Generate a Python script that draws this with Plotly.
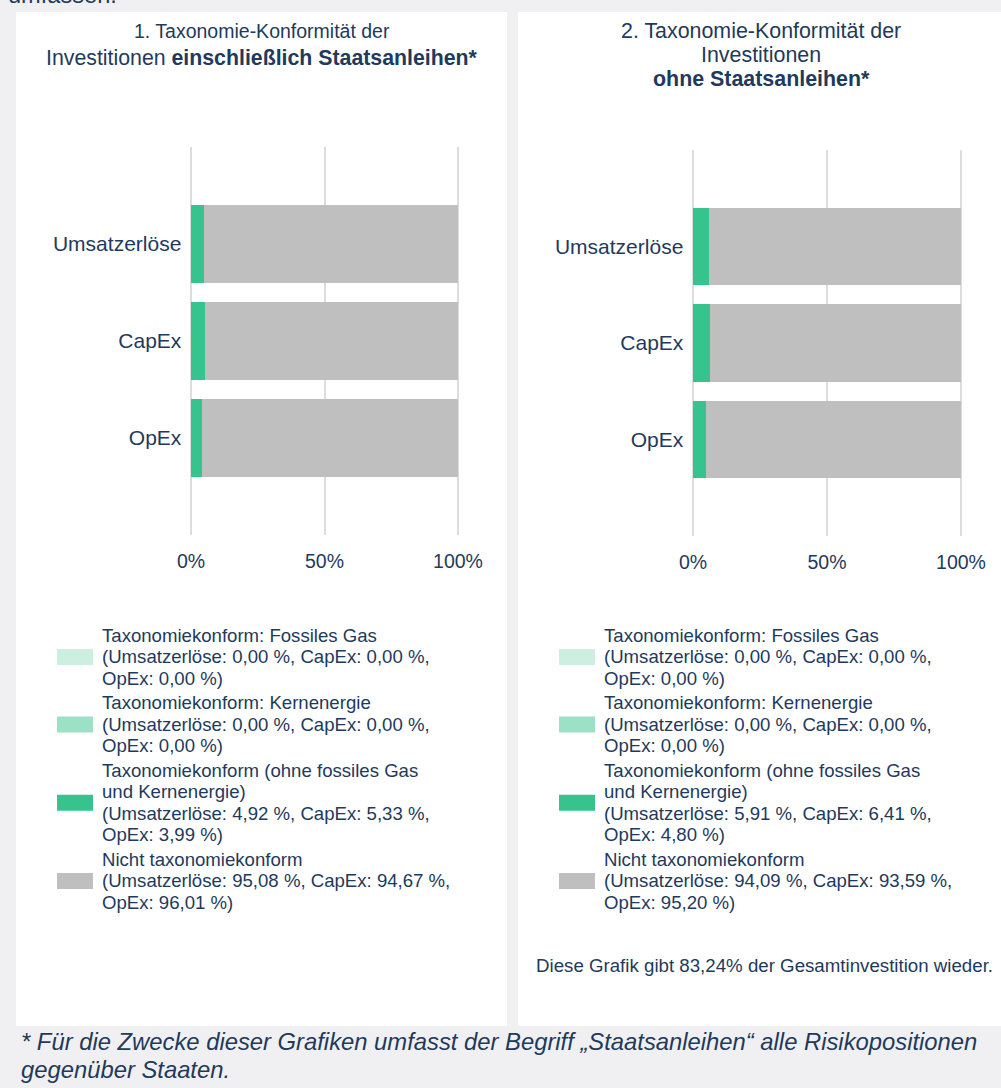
import plotly.graph_objects as go

W, H = 1001, 1088

# ---------------- data ----------------
categories = ["Umsatzerlöse", "CapEx", "OpEx"]
series_names = [
    "Taxonomiekonform: Fossiles Gas",
    "Taxonomiekonform: Kernenergie",
    "Taxonomiekonform (ohne fossiles Gas\nund Kernenergie)",
    "Nicht taxonomiekonform",
]
series_colors = ["#cdefe0", "#9ce0c6", "#36c38e", "#bfbfbf"]

# chart 1: including sovereign bonds
fossil_gas_1 = [0.00, 0.00, 0.00]
nuclear_1 = [0.00, 0.00, 0.00]
aligned_1 = [4.92, 5.33, 3.99]
not_aligned_1 = [95.08, 94.67, 96.01]

# chart 2: excluding sovereign bonds
fossil_gas_2 = [0.00, 0.00, 0.00]
nuclear_2 = [0.00, 0.00, 0.00]
aligned_2 = [5.91, 6.41, 4.80]
not_aligned_2 = [94.09, 93.59, 95.20]

tick_vals = [0, 50, 100]
tick_labels = ["0%", "50%", "100%"]

title_1 = ["1. Taxonomie-Konformität der", "Investitionen <b>einschließlich Staatsanleihen*</b>"]
title_2 = ["2. Taxonomie-Konformität der", "Investitionen", "<b>ohne Staatsanleihen*</b>"]
note_2 = "Diese Grafik gibt 83,24% der Gesamtinvestition wieder."
footnote = ["* Für die Zwecke dieser Grafiken umfasst der Begriff „Staatsanleihen“ alle Risikopositionen",
            "gegenüber Staaten."]
top_text = "umfassen."

# ---------------- style ----------------
FONT = "Liberation Sans, Arial, sans-serif"
NAVY = "#1e3a5c"
BG = "#f0f0f2"
GRID = "#dddddd"


def px(x):
    return x / W


def py(y):
    return 1 - y / H


def fmt(v):
    return f"{v:.2f}".replace(".", ",")


fig = go.Figure()

charts = [
    dict(series=[fossil_gas_1, nuclear_1, aligned_1, not_aligned_1], xa="x", ya="y"),
    dict(series=[fossil_gas_2, nuclear_2, aligned_2, not_aligned_2], xa="x2", ya="y2"),
]
for ch in charts:
    for name, col, vals in zip(series_names, series_colors, ch["series"]):
        fig.add_trace(go.Bar(
            x=vals, y=categories, orientation="h", name=name.replace("\n", " "),
            marker=dict(color=col, line=dict(width=0)),
            xaxis=ch["xa"], yaxis=ch["ya"], showlegend=False, hoverinfo="skip",
        ))

# x range padded by 1 unit on each side so the 0 % and 100 % grid lines are drawn
PAD = 1
xcommon = dict(range=[-PAD, 100 + PAD], tickvals=tick_vals, ticktext=tick_labels, showgrid=True,
               gridcolor=GRID, gridwidth=2, zeroline=False, showline=False, ticks="",
               tickfont=dict(family=FONT, size=19.5, color=NAVY), ticklabelstandoff=12,
               fixedrange=True, automargin=False)
ycommon = dict(type="category", range=[3, -1], showgrid=False, zeroline=False, showline=False,
               ticks="", tickfont=dict(family=FONT, size=21, color=NAVY), ticklabelstandoff=6,
               fixedrange=True, automargin=False)


def xdom(x0, x100):
    u = (x100 - x0) / 100
    return [px(x0 - PAD * u), px(x100 + PAD * u)]


fig.update_layout(
    template="none",
    width=W, height=H, autosize=False, margin=dict(l=0, r=0, t=0, b=0, pad=0),
    paper_bgcolor=BG, plot_bgcolor="white",
    barmode="stack", bargap=0.2, showlegend=False,
    font=dict(family=FONT, color=NAVY),
    xaxis=dict(domain=xdom(191, 458), anchor="y", **xcommon),
    yaxis=dict(domain=[py(535), py(147)], anchor="x", **ycommon),
    xaxis2=dict(domain=xdom(693, 961), anchor="y2", **xcommon),
    yaxis2=dict(domain=[py(536), py(150)], anchor="x2", **ycommon),
)

shapes = []
annotations = []

# white panels
for x0, x1 in [(16, 507), (518, 1001)]:
    shapes.append(dict(type="rect", xref="paper", yref="paper", x0=px(x0), x1=px(x1),
                       y0=py(1026), y1=py(12), fillcolor="white", line=dict(width=0),
                       layer="below"))


def add_text(text, x, y, size, xanchor="center", italic=False):
    annotations.append(dict(
        text=text, x=px(x), y=py(y), xref="paper", yref="paper", xanchor=xanchor,
        yanchor="middle", showarrow=False,
        font=dict(family=FONT, size=size, color=NAVY,
                  style="italic" if italic else "normal"),
    ))


# titles
add_text(title_1[0], 261.5, 31, 19.5)
add_text(title_1[1], 262, 57.5, 21.3)
for line, y in zip(title_2, [31, 55, 78.5]):
    add_text(line, 761, y, 21.4)

# legends (drawn as swatches + text built from the data)
LINE = 21.5
GAP = 24.5
for ch, sx, tx in [(charts[0], 57, 100), (charts[1], 559, 602)]:
    y = 635
    for name, col, vals in zip(series_names, series_colors, ch["series"]):
        lines = name.split("\n") + [
            f"(Umsatzerlöse: {fmt(vals[0])} %, CapEx: {fmt(vals[1])} %,",
            f"OpEx: {fmt(vals[2])} %)",
        ]
        ys = []
        for ln in lines:
            add_text(ln, tx, y, 18.6, xanchor="left")
            ys.append(y)
            y += LINE
        y += GAP - LINE
        yc = (ys[0] + ys[-1]) / 2 + 0.5
        shapes.append(dict(type="rect", xref="paper", yref="paper", x0=px(sx), x1=px(sx + 36),
                           y0=py(yc + 8), y1=py(yc - 8), fillcolor=col, line=dict(width=0)))

# note under chart 2
add_text(note_2, 764, 965, 18.7)

# footnote
add_text(footnote[0], 19, 1041, 23.8, xanchor="left", italic=True)
add_text(footnote[1], 19, 1069, 23.8, xanchor="left", italic=True)

# cut-off text at the very top
add_text(top_text, 6, -4.5, 23.6, xanchor="left")

fig.update_layout(shapes=shapes, annotations=annotations)
fig.write_html(
    "out.html",
    config={"responsive": False, "displayModeBar": False},
    default_width="1001px", default_height="1088px",
    post_script="document.body.style.margin='0';document.body.style.padding='0';"
                "document.body.style.overflow='hidden';"
                "document.documentElement.style.overflow='hidden';",
)
